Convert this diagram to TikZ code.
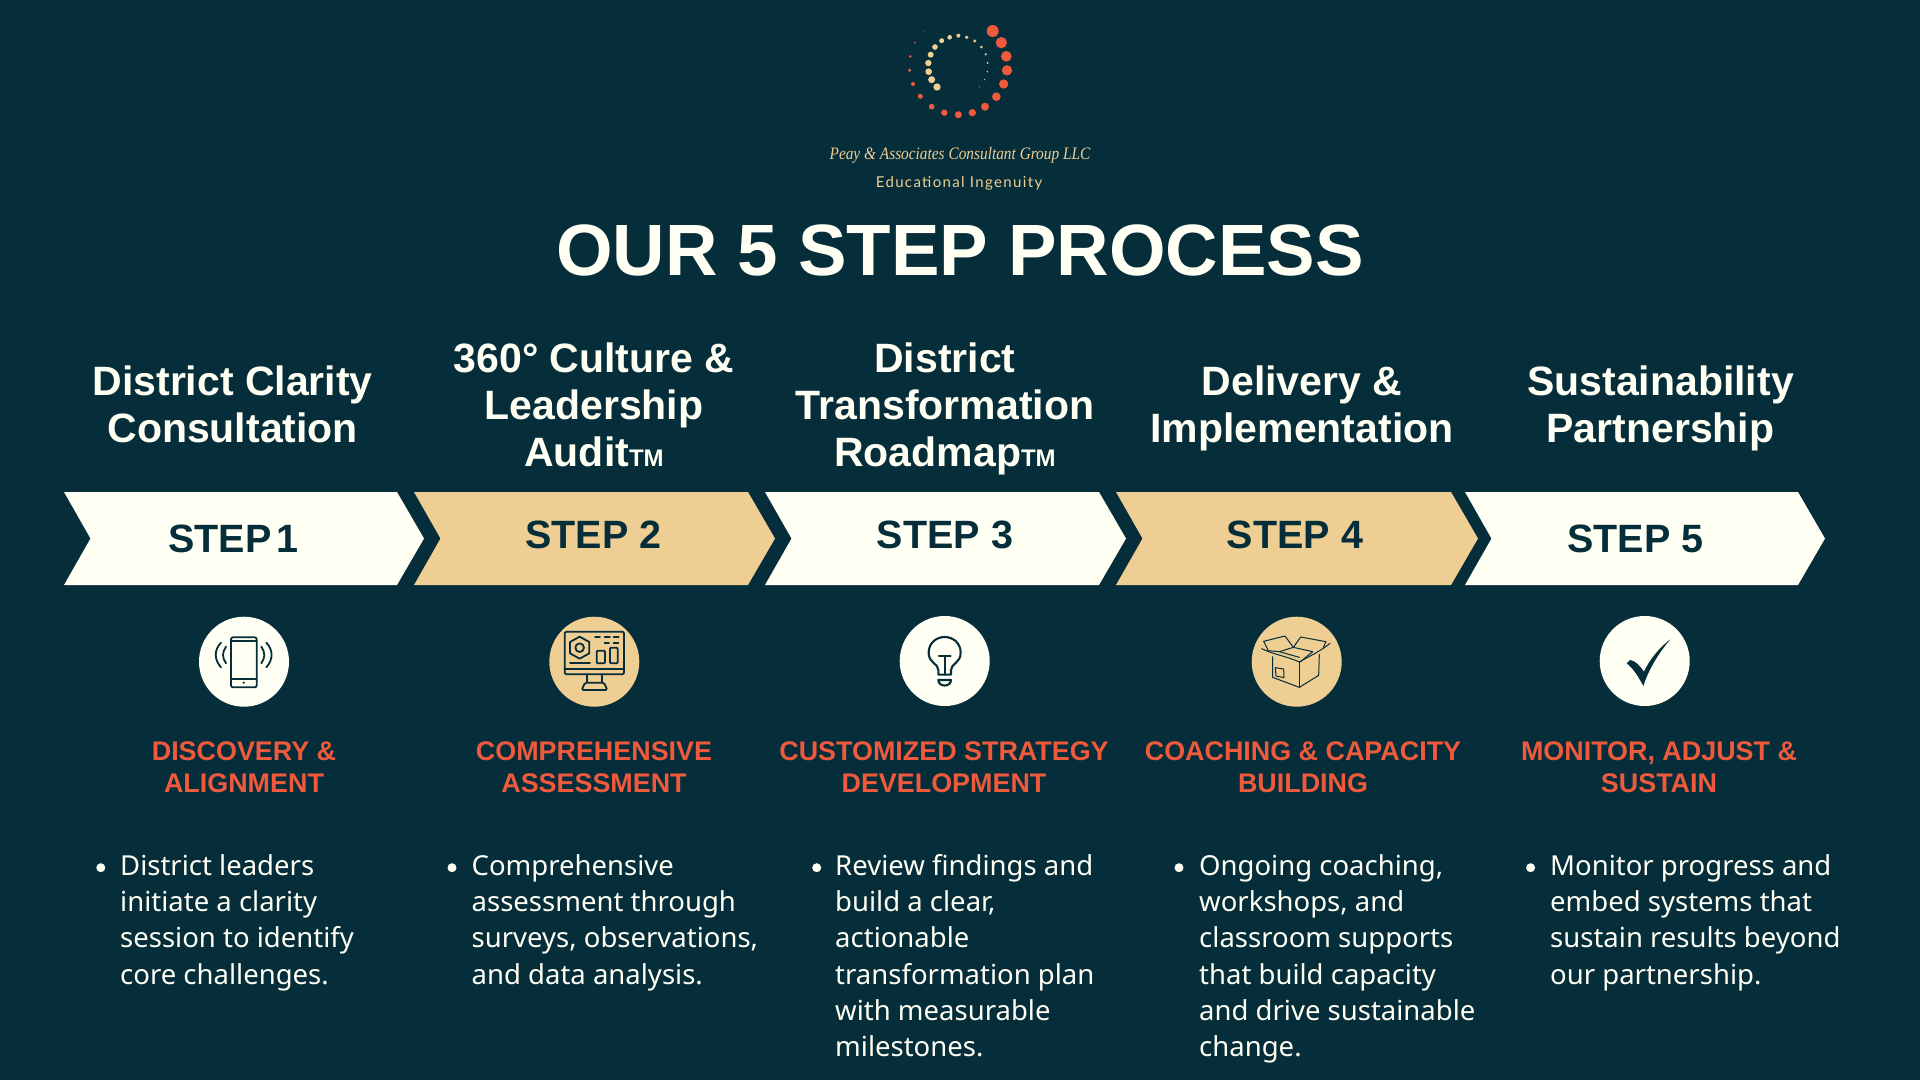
\documentclass[tikz,border=0pt]{standalone}
\usepackage{fontspec}
\setmainfont{Noto Sans}
\newfontfamily\heavy{Liberation Sans}
\newfontfamily\logofont{Liberation Serif}
\newfontfamily\tagfont[LetterSpace=9]{Lato}
\definecolor{bgc}{HTML}{052D3A}
\definecolor{creamc}{HTML}{FFFFF3}
\definecolor{tanc}{HTML}{EFCE93}
\definecolor{redc}{HTML}{EF5A3C}
\tikzset{
  steptext/.style={text=bgc,font=\fontsize{39.5}{47}\heavy\bfseries,inner sep=0pt},
  headtext/.style={text=creamc,font=\fontsize{41}{47}\heavy\bfseries,align=center,inner sep=0pt},
  subtext/.style={text=redc,font=\fontsize{26.9}{32}\heavy\bfseries,align=center,inner sep=0pt},
  bodytext/.style={text=creamc,font=\fontsize{27.5}{36.3}\selectfont,align=left,anchor=north west,inner sep=0pt},
  bul/.style={circle,fill=creamc,minimum size=9pt,inner sep=0pt},
  badge/.style={circle,minimum size=90pt,inner sep=0pt},
  ico/.style={draw=bgc,line width=1.8pt,line join=round,line cap=round},
  thin ico/.style={draw=bgc,line width=1pt,line join=round,line cap=round},
  zoomed/.style={x=.33333pt,y=-.33333pt}
}
\newcommand{\TMark}{{\fontsize{24}{24}\selectfont TM}}
\newcommand{\hstrut}{\rule[-10pt]{0pt}{30pt}}
\newcommand{\sstrut}{\rule[-6pt]{0pt}{20pt}}
\newcommand{\bstrut}{\rule{0pt}{25pt}}
\begin{document}
\begin{tikzpicture}[x=1pt,y=-1pt]
\useasboundingbox (0,0) rectangle (1920,1080);
\fill[bgc] (0,0) rectangle (1920,1080);
% logo
\begin{scope}[shift={(780,0)},zoomed]
\foreach \x/\y/\r in {638/93/18,664/128/17,679/169/16,681/211/15.5,671/252/14,649/290/13,615/320/12,577/338/11,535/344/10.5,493/338/9.5,455/320/8.5,421/289/7.5,399/252/6,389/211/5,391/169/4,405/128/3,432/93/2}
  \fill[redc] (\x,\y) circle[radius=\r*.33333pt];
\foreach \x/\y/\r in {471/261/11,455/239/10.5,446/215/10,445/189/9.5,452/164/9,465/141/8.5,485/122/7.5,509/112/7,535/107/6,560/112/5.5,584/123/5,604/141/4.5,617/163/3.5,623/189/3,622/215/2.5,614/239/2,598/261/1.5}
  \fill[tanc] (\x,\y) circle[radius=\r*.33333pt];
\end{scope}
\node[text=tanc,font=\fontsize{17.5}{20}\logofont\itshape,inner sep=0pt] (logoname) at (960,155) {\scalebox{.877}[1]{Peay \& Associates Consultant Group LLC}};
\node[text=tanc,font=\fontsize{15}{18}\tagfont,inner sep=0pt] (tagline) at (959,183) {Educational Ingenuity};
\node[text=creamc,font=\fontsize{72.7}{80}\heavy\bfseries,inner sep=0pt] (title) at (960,250) {OUR 5 STEP PROCESS};
% heads
\node[headtext] (h1) at (232.7,409.5) {\hstrut District Clarity\\\hstrut Consultation\hspace{7.5pt}};
\node[headtext] (h2) at (594,409.5) {\hstrut 360° Culture \&\\Leadership\\\hstrut Audit\TMark};
\node[headtext] (h3) at (945,409.5) {\hstrut District\\Transformation\\\hstrut Roadmap\TMark};
\node[headtext] (h4) at (1302,409.5) {\hstrut Delivery \&\\\hstrut Implementation};
\node[headtext] (h5) at (1660.5,409.5) {\hstrut Sustainability\\\hstrut Partnership};
% chevrons
\fill[creamc] (64,492) -- (397,492) -- (424,538.5) -- (397,585) -- (64,585) -- (90.5,538.5) -- cycle;
\fill[tanc] (414,492) -- (748,492) -- (775,538.5) -- (748,585) -- (414,585) -- (440.5,538.5) -- cycle;
\fill[creamc] (765,492) -- (1099,492) -- (1126,538.5) -- (1099,585) -- (765,585) -- (791.5,538.5) -- cycle;
\fill[tanc] (1116,492) -- (1451,492) -- (1478,538.5) -- (1451,585) -- (1116,585) -- (1142.5,538.5) -- cycle;
\fill[creamc] (1465,492) -- (1798,492) -- (1825,538.5) -- (1798,585) -- (1465,585) -- (1491.5,538.5) -- cycle;
\node[steptext] (s1) at (233.5,538.5) {STEP\hspace{-6pt} 1};
\node[steptext] (s2) at (593.5,534.5) {STEP 2};
\node[steptext] (s3) at (945,534.5) {STEP 3};
\node[steptext] (s4) at (1295,534.5) {STEP 4};
\node[steptext] (s5) at (1635.5,538.5) {STEP 5};
% badges
\node[badge,fill=creamc] (b1) at (244,661.7) {};
\node[badge,fill=tanc] (b2) at (594.3,661.7) {};
\node[badge,fill=creamc] (b3) at (944.7,661) {};
\node[badge,fill=tanc] (b4) at (1296.7,661.7) {};
\node[badge,fill=creamc] (b5) at (1644.7,661) {};
% phone icon
\begin{scope}[shift={(170,600)},zoomed]
\draw[ico,rounded corners=2pt] (183,112) rectangle (260,262);
\draw[ico] (183,122) -- (260,122) (183,237) -- (260,237);
\fill[bgc] (221,248) circle[radius=1.2pt];
\draw[ico] (153,128) .. controls (132,150) and (132,178) .. (153,202);
\draw[ico] (168,140) .. controls (156,158) and (156,172) .. (168,190);
\draw[ico] (289,128) .. controls (310,150) and (310,178) .. (289,202);
\draw[ico] (274,140) .. controls (286,158) and (286,172) .. (274,190);
% monitor icon
\draw[ico,rounded corners=1.5pt] (1184,95) rectangle (1362,223);
\draw[ico] (1184,208) -- (1362,208);
\draw[ico] (1252,223) -- (1252,247) (1295,223) -- (1295,247);
\draw[ico,rounded corners=1.5pt] (1245,248) -- (1302,248) -- (1312,270) -- (1235,270) -- cycle;
\draw[ico] (1229,110) -- (1258,126) -- (1258,160) -- (1229,176) -- (1200,160) -- (1200,126) -- cycle;
\draw[ico] (1229,143) circle[radius=4.3pt];
\draw[ico] (1200,190) -- (1260,190);
\draw[ico,rounded corners=1pt] (1280,190) -- (1280,152) -- (1305,152) -- (1305,190) -- cycle;
\draw[ico,rounded corners=1pt] (1320,190) -- (1320,143) -- (1343,143) -- (1343,190) -- cycle;
\draw[ico] (1275,112) -- (1290,112) (1304,112) -- (1320,112) (1331,112) -- (1346,112) (1304,128) -- (1317,128) (1331,128) -- (1345,128);
\end{scope}
% bulb icon
\begin{scope}[shift={(870,600)},zoomed]
\draw[ico,line width=2.1pt] (205,224) -- (205,210) .. controls (205,190) and (176,190) .. (176,158) .. controls (176,128) and (200,111) .. (224,111) .. controls (248,111) and (272,128) .. (272,158) .. controls (272,190) and (243,190) .. (243,210) -- (243,224) -- cycle;
\draw[ico,line width=2.1pt] (207,168) -- (242,168) (224,168) -- (224,224);
\draw[ico,line width=2.1pt] (205,240) -- (243,240) .. controls (243,262) and (205,262) .. (205,240) -- cycle;
% box icon
\draw[thin ico] (1208,170) -- (1208,232) -- (1288,262) -- (1346,226) -- (1348,163);
\draw[thin ico] (1288,262) -- (1288,186);
\draw[thin ico] (1175,146) .. controls (1215,165) and (1255,170) .. (1288,186) .. controls (1315,170) and (1350,155) .. (1380,130);
\draw[thin ico] (1195,152) -- (1228,155) -- (1270,142) -- (1328,155) -- (1290,186);
\draw[thin ico] (1228,155) -- (1288,172);
\draw[thin ico] (1195,152) -- (1181,124) -- (1245,108) -- (1270,142) -- (1292,111) -- (1368,125) -- (1360,142);
\draw[thin ico] (1216,203) -- (1241,207) -- (1242,233) -- (1218,228) -- cycle;
\end{scope}
% check icon
\begin{scope}[shift={(1570,600)},zoomed]
\fill[bgc] (301,118) .. controls (265,145) and (235,185) .. (222,215) .. controls (208,195) and (195,182) .. (180,180) -- (170,190) .. controls (190,205) and (205,230) .. (220,258) .. controls (235,210) and (265,160) .. (301,118) -- cycle;
\end{scope}
% subheads
\node[subtext] (t1) at (244,770.5) {\sstrut DISCOVERY \&\\\sstrut ALIGNMENT};
\node[subtext] (t2) at (594,770.5) {\sstrut COMPREHENSIVE\\\sstrut ASSESSMENT};
\node[subtext] (t3) at (944,770.5) {\sstrut CUSTOMIZED STRATEGY\\\sstrut DEVELOPMENT};
\node[subtext] (t4) at (1303,770.5) {\sstrut COACHING \& CAPACITY\\\sstrut BUILDING};
\node[subtext] (t5) at (1659,770.5) {\sstrut MONITOR, ADJUST \&\\\sstrut SUSTAIN};
% bullets
\node[bul] (d1) at (100.8,867.7) {};
\node[bul] (d2) at (452,867.7) {};
\node[bul] (d3) at (816.7,867.7) {};
\node[bul] (d4) at (1179,867.7) {};
\node[bul] (d5) at (1530.6,867.7) {};
\node[bodytext] (x1) at (120,850) {\bstrut District leaders\\initiate a clarity\\session to identify\\core challenges.};
\node[bodytext] (x2) at (471.5,850) {\bstrut Comprehensive\\assessment through\\surveys, observations,\\and data analysis.};
\node[bodytext] (x3) at (835,850) {\bstrut Review findings and\\build a clear,\\actionable\\transformation plan\\with measurable\\milestones.};
\node[bodytext] (x4) at (1199,850) {\bstrut Ongoing coaching,\\workshops, and\\classroom supports\\that build capacity\\and drive sustainable\\change.};
\node[bodytext] (x5) at (1550,850) {\bstrut Monitor progress and\\embed systems that\\sustain results beyond\\our partnership.};
\end{tikzpicture}
\end{document}
